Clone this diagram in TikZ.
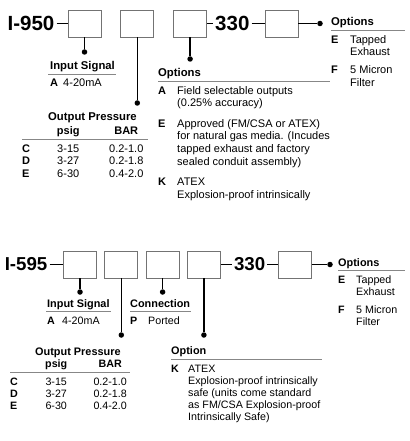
\documentclass[tikz,border=0pt]{standalone}
\usepackage{fontspec}
\setmainfont{Liberation Sans}
\usetikzlibrary{positioning}
\definecolor{boxgray}{RGB}{115,115,115}
\definecolor{rulegray}{RGB}{135,135,135}
\begin{document}
\begin{tikzpicture}[
x=1pt,y=-1pt,
bodyfont/.style={font=\fontsize{11}{12.5}\selectfont},
headfont/.style={font=\fontsize{11.3}{13}\selectfont\bfseries},
ttlfont/.style={font=\fontsize{20.5}{24}\selectfont\bfseries},
ttl/.style={ttlfont,inner sep=2pt},
codebox/.style={draw=boxgray,line width=0.8pt,minimum width=33pt,minimum height=27pt,inner sep=0pt},
pin/.style={circle,fill,inner sep=0pt,minimum size=5.5pt},
lead/.style={line width=1.4pt},
link/.style={line width=0.9pt},
rule/.style={draw=rulegray,line width=0.8pt},
head/.style={headfont,anchor=base west,inner sep=0pt},
list/.style={bodyfont,anchor=base west,inner sep=0pt}
]
\useasboundingbox (0,0) rectangle (409,441);

% I-950 code line
\node[codebox] (b1) at (84.5,23.5) {};
\node[codebox,right=19pt of b1] (b2) {};
\node[codebox,right=19pt of b2] (b3) {};
\node[ttl,right=6pt of b3] (n330) {330};
\node[codebox,right=13pt of n330] (b4) {};
\node[ttl,left=11pt of b1] (t950) {I-950};
\node[pin] (p1) at (b1 |- 0,52) {};
\node[pin] (p2) at (b2 |- 0,103) {};
\node[pin] (p3) at (b3 |- 0,59) {};
\node[pin] (p4) at (320,23.5) {};
\draw[link] (t950) -- (b1);
\draw[link] (b3) -- (n330);
\draw[link] (n330) -- (b4);
\draw[link] (b4) -- (p4);
\draw[lead] (b1) -- (p1);
\draw[lead] (b2) -- (p2);
\draw[lead] (b3) -- (p3);

\node[head] (hin) at (50,70) {Input Signal};
\draw[rule] (48,74) -- (116,74);
\node[list] (lin) at (50,87) {\begin{tabular}[t]{@{}l@{\hspace{5.1pt}}l@{}}
\textbf{A} & 4-20mA
\end{tabular}};

\node[head] (hout) at (48,121) {Output Pressure};
\draw[rule] (22,139) -- (148,139);
\node[list] (tout) at (22,134) {\begin{tabular}[t]{@{}l@{\hspace{26.8pt}}c@{\hspace{29.6pt}}c@{}}
 & \textbf{psig} & \textbf{BAR}\\[5.5pt]
\textbf{C} & 3-15 & 0.2-1.0\\
\textbf{D} & 3-27 & 0.2-1.8\\
\textbf{E} & 6-30 & 0.4-2.0
\end{tabular}};

\node[head] (hopt) at (158,77) {Options};
\draw[rule] (158,81) -- (330,81);
\node[list] (lopt) at (158,94.5) {\begin{tabular}[t]{@{}l@{\hspace{11.1pt}}l@{}}
\textbf{A} & Field selectable outputs\\
 & (0.25\% accuracy)\\[8pt]
\textbf{E} & Approved (FM/CSA or ATEX)\\
 & for natural gas media. (Incudes\\
 & tapped exhaust and factory\\
 & sealed conduit assembly)\\[8.5pt]
\textbf{K} & ATEX\\
 & Explosion-proof intrinsically
\end{tabular}};

\node[head] (hext) at (331,26) {Options};
\draw[rule] (331,30) -- (405,30);
\node[list] (lext) at (331,43.5) {\begin{tabular}[t]{@{}l@{\hspace{11.7pt}}l@{}}
\textbf{E} & Tapped\\
 & Exhaust\\[5.5pt]
\textbf{F} & 5 Micron\\
 & Filter
\end{tabular}};

% I-595 code line
\begin{scope}[
bodyfont/.style={font=\fontsize{10.7}{12.2}\selectfont},
headfont/.style={font=\fontsize{10.9}{12.5}\selectfont\bfseries},
ttlfont/.style={font=\fontsize{18.7}{22}\selectfont\bfseries}
]
\node[codebox] (c1) at (80,264.5) {};
\node[codebox,right=7.5pt of c1] (c2) {};
\node[codebox,right=7.5pt of c2] (c3) {};
\node[codebox,right=7.5pt of c3] (c4) {};
\node[ttl,right=11pt of c4] (m330) {330};
\node[codebox,right=10.5pt of m330] (c5) {};
\node[ttl,left=13.5pt of c1] (t595) {I-595};
\node[pin] (q1) at (c1 |- 0,292) {};
\node[pin] (q2) at (c2 |- 0,335) {};
\node[pin] (q3) at (c3 |- 0,292) {};
\node[pin] (q4) at (c4 |- 0,335) {};
\node[pin] (q5) at (330,264.5) {};
\draw[link] (t595) -- (c1);
\draw[link] (c4) -- (m330);
\draw[link] (m330) -- (c5);
\draw[link] (c5) -- (q5);
\draw[lead] (c1) -- (q1);
\draw[lead] (c2) -- (q2);
\draw[lead] (c3) -- (q3);
\draw[lead] (c4) -- (q4);

\node[head] (gin) at (47,307) {Input Signal};
\draw[rule] (46,311) -- (111,311);
\node[list] (kin) at (47,324.5) {\begin{tabular}[t]{@{}l@{\hspace{7.3pt}}l@{}}
\textbf{A} & 4-20mA
\end{tabular}};

\node[head] (gcon) at (130,307) {Connection};
\draw[rule] (130,311) -- (191,311);
\node[list] (kcon) at (130,324.5) {\begin{tabular}[t]{@{}l@{\hspace{10.9pt}}l@{}}
\textbf{P} & Ported
\end{tabular}};

\node[head] (gout) at (35,355) {Output Pressure};
\draw[rule] (10,372) -- (130,372);
\node[list] (sout) at (10,367) {\begin{tabular}[t]{@{}l@{\hspace{27.3pt}}c@{\hspace{26.3pt}}c@{}}
 & \textbf{psig} & \textbf{BAR}\\[5.8pt]
\textbf{C} & 3-15 & 0.2-1.0\\
\textbf{D} & 3-27 & 0.2-1.8\\
\textbf{E} & 6-30 & 0.4-2.0
\end{tabular}};

\node[head] (gopt) at (171,354.5) {Option};
\draw[rule] (171,359) -- (322,359);
\node[list] (kopt) at (171,372) {\begin{tabular}[t]{@{}l@{\hspace{9.3pt}}l@{}}
\textbf{K} & ATEX\\
 & Explosion-proof intrinsically\\
 & safe (units come standard\\
 & as FM/CSA Explosion-proof\\
 & Intrinsically Safe)
\end{tabular}};

\node[head] (gext) at (338,266) {Options};
\draw[rule] (338,270) -- (405,270);
\node[list] (kext) at (338,283) {\begin{tabular}[t]{@{}l@{\hspace{10.9pt}}l@{}}
\textbf{E} & Tapped\\
 & Exhaust\\[5.8pt]
\textbf{F} & 5 Micron\\
 & Filter
\end{tabular}};
\end{scope}
\end{tikzpicture}
\end{document}
